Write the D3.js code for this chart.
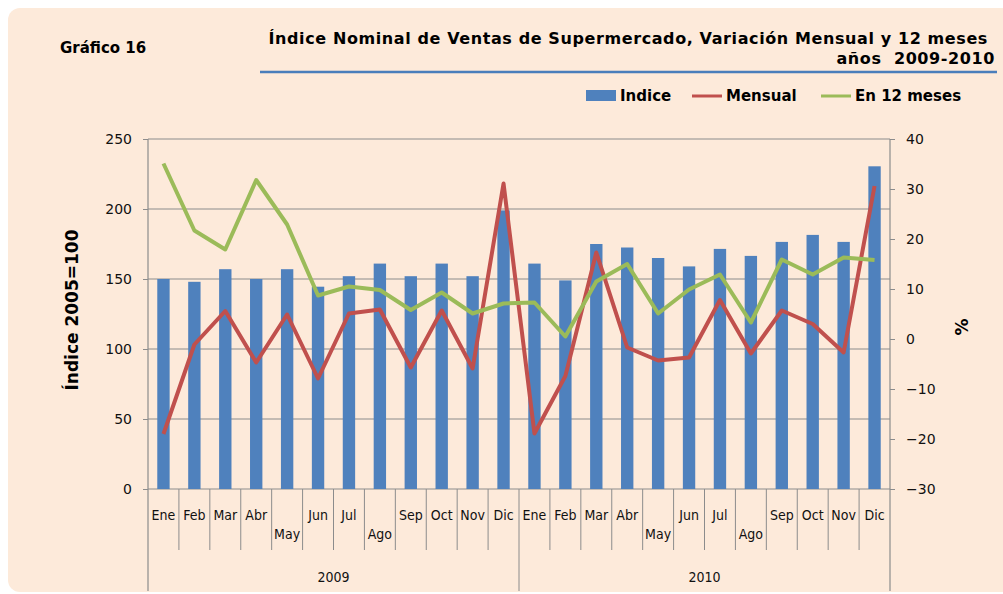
<!DOCTYPE html>
<html>
<head>
<meta charset="utf-8">
<script src="https://cdnjs.cloudflare.com/ajax/libs/d3/7.8.5/d3.min.js"></script>
<style>
  body { margin: 0; background: #fff; }
  svg { display: block; }
</style>
</head>
<body>
<div id="chart"></div>
<script>
// data
const months = ["Ene","Feb","Mar","Abr","May","Jun","Jul","Ago","Sep","Oct","Nov","Dic"];
const years = ["2009", "2010"];
const indice = [150, 148, 157, 150, 157, 144.5, 152, 161, 152, 161, 152, 199,
                161, 149, 175, 172.5, 165, 159, 171.5, 166.5, 176.5, 181.5, 176.5, 230.5];
const mensual = [-19, -1.1, 5.6, -4.7, 4.9, -7.9, 5.1, 5.9, -5.7, 5.7, -5.9, 31.1,
                 -18.9, -7.4, 17.3, -1.7, -4.3, -3.7, 7.8, -2.9, 5.7, 3.0, -2.7, 30.6];
const en12 = [35.1, 21.7, 17.9, 31.8, 22.9, 8.7, 10.5, 9.8, 5.8, 9.3, 5.1, 7.1,
              7.3, 0.5, 11.5, 15, 5.1, 9.9, 12.9, 3.3, 15.9, 12.9, 16.3, 15.8];
const leftTicks = [0, 50, 100, 150, 200, 250];
const rightTicks = [-30, -20, -10, 0, 10, 20, 30, 40];

const w = 1003, h = 594;
const pL = 148, pR = 890, pT = 139, pB = 489;

const svg = d3.select("#chart").append("svg")
  .attr("width", w).attr("height", h);

// background panel
svg.append("rect")
  .attr("x", 8).attr("y", 8)
  .attr("width", w + 20).attr("height", 584)
  .attr("rx", 12)
  .attr("fill", "#fdeada");

// all the months of both years
const cats = [];
years.forEach(y => months.forEach(m => cats.push({ m: m, y: y })));
const keys = cats.map((d, i) => i);

const x = d3.scaleBand().domain(keys).range([pL, pR]);
const yL = d3.scaleLinear().domain([0, 250]).range([pB, pT]);
const yR = d3.scaleLinear().domain([-30, 40]).range([pB, pT]);

const grey = "#8c8c8c";

// gridlines
svg.append("g").selectAll("line")
  .data(leftTicks)
  .enter().append("line")
  .attr("x1", pL).attr("x2", pR)
  .attr("y1", d => yL(d)).attr("y2", d => yL(d))
  .attr("stroke", grey).attr("stroke-width", 1.2);

// left axis
const axL = svg.append("g")
  .attr("transform", "translate(" + pL + ",0)")
  .call(d3.axisLeft(yL).tickValues(leftTicks).tickSize(5).tickPadding(11).tickSizeOuter(0));

// right axis
const axR = svg.append("g")
  .attr("transform", "translate(" + pR + ",0)")
  .call(d3.axisRight(yR).tickValues(rightTicks).tickSize(5).tickPadding(11).tickSizeOuter(0));

[axL, axR].forEach(ax => {
  ax.select(".domain").remove();
  ax.selectAll("line").attr("stroke", grey);
  ax.selectAll("text")
    .attr("fill", "#111")
    .style("font-family", "'DejaVu Sans', Verdana, sans-serif")
    .style("font-size", "14px");
});

// vertical axis lines, running down through the category labels
[pL, pR].forEach(px => {
  svg.append("line")
    .attr("x1", px).attr("x2", px)
    .attr("y1", pT).attr("y2", 591)
    .attr("stroke", grey).attr("stroke-width", 1.2);
});

// bars
const barW = x.bandwidth() * 0.4;
svg.append("g").selectAll("rect")
  .data(indice)
  .enter().append("rect")
  .attr("x", (d, i) => x(i) + x.bandwidth() / 2 - barW / 2)
  .attr("y", d => yL(d))
  .attr("width", barW)
  .attr("height", d => yL(0) - yL(d))
  .attr("fill", "#4f81bd");

// lines
const line = d3.line()
  .x((d, i) => x(i) + x.bandwidth() / 2)
  .y(d => yR(d));

svg.append("path")
  .datum(mensual)
  .attr("d", line)
  .attr("fill", "none")
  .attr("stroke", "#c0504d")
  .attr("stroke-width", 4)
  .attr("stroke-linejoin", "round");

svg.append("path")
  .datum(en12)
  .attr("d", line)
  .attr("fill", "none")
  .attr("stroke", "#9bbb59")
  .attr("stroke-width", 4)
  .attr("stroke-linejoin", "round");

// category dividers
keys.slice(1).forEach(i => {
  const yearEdge = i % 12 === 0;
  svg.append("line")
    .attr("x1", x(i)).attr("x2", x(i))
    .attr("y1", pB).attr("y2", yearEdge ? 591 : 550)
    .attr("stroke", grey).attr("stroke-width", 1);
});

// month labels, May and Ago drop to the second row
const catFont = "'Liberation Sans Narrow', 'DejaVu Sans Condensed', sans-serif";
svg.append("g").selectAll("text")
  .data(cats)
  .enter().append("text")
  .attr("x", (d, i) => x(i) + x.bandwidth() / 2)
  .attr("y", d => (d.m === "May" || d.m === "Ago") ? 539 : 520)
  .attr("text-anchor", "middle")
  .style("font-family", catFont)
  .style("font-size", "14px")
  .attr("fill", "#111")
  .text(d => d.m);

// year labels
years.forEach((yr, j) => {
  svg.append("text")
    .attr("x", (x(j * 12) + x(j * 12 + 11) + x.bandwidth()) / 2)
    .attr("y", 582)
    .attr("text-anchor", "middle")
    .style("font-family", catFont)
    .style("font-size", "14px")
    .attr("fill", "#111")
    .text(yr);
});

// axis titles
svg.append("text")
  .attr("transform", "translate(78,310) rotate(-90)")
  .attr("text-anchor", "middle")
  .style("font-family", "'DejaVu Sans', Verdana, sans-serif")
  .style("font-weight", "bold")
  .style("font-size", "17px")
  .text("Índice 2005=100");

svg.append("text")
  .attr("transform", "translate(968,327) rotate(-90)")
  .attr("text-anchor", "middle")
  .style("font-family", "'DejaVu Sans', Verdana, sans-serif")
  .style("font-weight", "bold")
  .style("font-size", "17px")
  .text("%");

// titles
const titleFont = "'DejaVu Sans', Verdana, sans-serif";
svg.append("text")
  .attr("x", 60).attr("y", 53)
  .style("font-family", titleFont)
  .style("font-weight", "bold")
  .style("font-size", "15px")
  .text("Gráfico 16");

svg.append("text")
  .attr("x", 988).attr("y", 44)
  .attr("text-anchor", "end")
  .style("font-family", titleFont)
  .style("font-weight", "bold")
  .style("font-size", "16px")
  .style("letter-spacing", "0.6px")
  .text("Índice Nominal de Ventas de Supermercado, Variación Mensual y 12 meses");

svg.append("text")
  .attr("x", 995).attr("y", 64)
  .attr("text-anchor", "end")
  .style("font-family", titleFont)
  .style("font-weight", "bold")
  .style("font-size", "16px")
  .style("letter-spacing", "0.6px")
  .style("white-space", "pre")
  .text("años  2009-2010");

svg.append("line")
  .attr("x1", 260).attr("x2", 997)
  .attr("y1", 72).attr("y2", 72)
  .attr("stroke", "#4a7ebb").attr("stroke-width", 2.5);

// legend
const legend = svg.append("g")
  .style("font-family", titleFont)
  .style("font-weight", "bold")
  .style("font-size", "15px");

legend.append("rect")
  .attr("x", 586).attr("y", 90).attr("width", 30).attr("height", 11)
  .attr("fill", "#4f81bd");
legend.append("text").attr("x", 620).attr("y", 101).text("Indice");

legend.append("line")
  .attr("x1", 692).attr("x2", 722).attr("y1", 96).attr("y2", 96)
  .attr("stroke", "#c0504d").attr("stroke-width", 3);
legend.append("text").attr("x", 726).attr("y", 101).text("Mensual");

legend.append("line")
  .attr("x1", 821).attr("x2", 851).attr("y1", 96).attr("y2", 96)
  .attr("stroke", "#9bbb59").attr("stroke-width", 3);
legend.append("text").attr("x", 855).attr("y", 101).text("En 12 meses");
</script>
</body>
</html>
